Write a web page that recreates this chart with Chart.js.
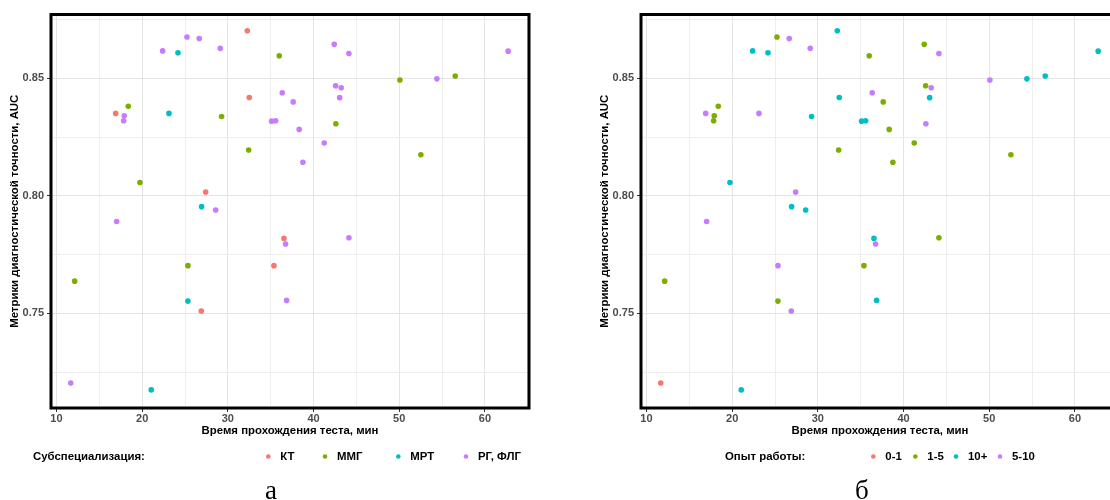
<!DOCTYPE html>
<html>
<head>
<meta charset="utf-8">
<script src="https://cdn.jsdelivr.net/npm/chart.js@4/dist/chart.umd.min.js"></script>
<style>
  html, body { margin: 0; padding: 0; background: #fff; overflow: hidden; width: 1110px; height: 500px; }
  #wrap { position: relative; width: 1110px; height: 500px; overflow: hidden; }
  canvas { position: absolute; top: 0; }
  #panelA { left: 0; }
  #panelB { left: 590px; }
</style>
</head>
<body>
<div id="wrap">
  <canvas id="panelA" width="555" height="500"></canvas>
  <canvas id="panelB" width="555" height="500"></canvas>
</div>
<script>
// Test duration (minutes) per participant
const timeMin = [
  16.91, 32.27, 32.50, 27.41, 36.55, 35.38, 26.90,
  18.38, 29.27, 32.43, 19.74, 36.00, 50.08, 56.54, 42.61, 52.53, 25.34, 12.12,
  24.18, 23.13, 26.94, 25.34, 21.06,
  17.91, 17.84, 22.39, 25.23, 26.66, 29.11, 28.58, 17.02, 42.42, 44.13, 62.72,
  54.40, 42.58, 43.23, 43.05, 36.35, 37.63, 35.11, 35.58, 38.33, 41.25, 38.76,
  36.74, 44.13, 11.66, 36.86
];
// Diagnostic accuracy (AUC) per participant
const auc = [
  0.8351, 0.8703, 0.8419, 0.8016, 0.7819, 0.7703, 0.7510,
  0.8381, 0.8338, 0.8195, 0.8057, 0.8596, 0.8493, 0.8510, 0.8307, 0.8175, 0.7703, 0.7637,
  0.8609, 0.8351, 0.7954, 0.7552, 0.7174,
  0.8341, 0.8320, 0.8617, 0.8676, 0.8670, 0.8628, 0.7940, 0.7891, 0.8645, 0.8606, 0.8616,
  0.8498, 0.8469, 0.8460, 0.8418, 0.8439, 0.8400, 0.8318, 0.8320, 0.8283, 0.8225, 0.8143,
  0.7795, 0.7822, 0.7203, 0.7555
];
// Subspecialty per participant
const subspec = [
  'КТ', 'КТ', 'КТ', 'КТ', 'КТ', 'КТ', 'КТ',
  'ММГ', 'ММГ', 'ММГ', 'ММГ', 'ММГ', 'ММГ', 'ММГ', 'ММГ', 'ММГ', 'ММГ', 'ММГ',
  'МРТ', 'МРТ', 'МРТ', 'МРТ', 'МРТ',
  'РГ, ФЛГ', 'РГ, ФЛГ', 'РГ, ФЛГ', 'РГ, ФЛГ', 'РГ, ФЛГ', 'РГ, ФЛГ', 'РГ, ФЛГ', 'РГ, ФЛГ',
  'РГ, ФЛГ', 'РГ, ФЛГ', 'РГ, ФЛГ', 'РГ, ФЛГ', 'РГ, ФЛГ', 'РГ, ФЛГ', 'РГ, ФЛГ', 'РГ, ФЛГ',
  'РГ, ФЛГ', 'РГ, ФЛГ', 'РГ, ФЛГ', 'РГ, ФЛГ', 'РГ, ФЛГ', 'РГ, ФЛГ', 'РГ, ФЛГ', 'РГ, ФЛГ',
  'РГ, ФЛГ', 'РГ, ФЛГ'
];
// Work experience (years) per participant
const experience = [
  '5-10', '10+', '10+', '5-10', '10+', '1-5', '5-10',
  '1-5', '10+', '1-5', '10+', '1-5', '5-10', '10+', '5-10', '1-5', '5-10', '1-5',
  '10+', '5-10', '10+', '1-5', '10+',
  '1-5', '1-5', '10+', '1-5', '5-10', '5-10', '10+', '5-10', '1-5', '5-10', '10+',
  '10+', '1-5', '5-10', '10+', '5-10', '1-5', '10+', '10+', '1-5', '1-5', '1-5',
  '5-10', '1-5', '0-1', '10+'
];

const subspecCategories = ['КТ', 'ММГ', 'МРТ', 'РГ, ФЛГ'];
const experienceCategories = ['0-1', '1-5', '10+', '5-10'];
const groupColors = ['#F8766D', '#7CAE00', '#00BFC4', '#C77CFF'];

const xTickValues = [10, 15, 20, 25, 30, 35, 40, 45, 50, 55, 60, 65];
const yTickValues = [0.725, 0.75, 0.775, 0.8, 0.825, 0.85, 0.875];

const xLabel = 'Время прохождения теста, мин';
const yLabel = 'Метрики диагностической точности, AUC';

const SANS = '"Liberation Sans", Arial, Helvetica, sans-serif';
const SERIF = '"Liberation Serif", "Times New Roman", serif';

const isMajorX = v => Math.round(v) % 10 === 0;
const isMajorY = v => Math.round(v * 1000) % 50 === 0;

function buildDatasets(groupOf, categories) {
  return categories.map((cat, k) => ({
    label: cat,
    data: timeMin
      .map((t, i) => ({ x: t, y: auc[i], g: groupOf[i] }))
      .filter(p => p.g === cat)
      .map(p => ({ x: p.x, y: p.y })),
    backgroundColor: groupColors[k],
    borderWidth: 0,
    pointRadius: 2.8,
    pointHoverRadius: 2.8
  }));
}

// Panel frame, bottom legend and panel letter
const panelDecor = {
  id: 'panelDecor',
  afterDraw(chart, args, opts) {
    const { ctx, chartArea: a } = chart;
    ctx.save();
    ctx.lineWidth = 3;
    ctx.strokeStyle = '#000';
    ctx.strokeRect(a.left, a.top, a.right - a.left, a.bottom - a.top);

    ctx.font = 'bold 11.4px ' + SANS;
    ctx.fillStyle = '#000';
    ctx.textBaseline = 'middle';
    ctx.textAlign = 'left';
    ctx.fillText(opts.title, opts.titleX, opts.legendY);
    chart.data.datasets.forEach((ds, k) => {
      const kx = opts.keyX[k];
      ctx.beginPath();
      ctx.fillStyle = ds.backgroundColor;
      ctx.arc(kx, opts.legendY, 2.3, 0, Math.PI * 2);
      ctx.fill();
      ctx.fillStyle = '#000';
      ctx.fillText(ds.label, kx + 12, opts.legendY);
    });

    ctx.font = '27px ' + SERIF;
    ctx.textBaseline = 'alphabetic';
    ctx.fillText(opts.letter, opts.letterX, opts.letterY);
    ctx.restore();
  }
};

function makeChart(canvasId, datasets, decor) {
  const tickFont = { family: SANS, size: 11, weight: 'bold' };
  const titleFont = { family: SANS, size: 11.4, weight: 'bold' };
  return new Chart(document.getElementById(canvasId), {
    type: 'scatter',
    data: { datasets },
    plugins: [panelDecor],
    options: {
      responsive: false,
      animation: false,
      devicePixelRatio: 1,
      events: [],
      layout: { padding: { left: 0, top: 14.5, right: 26, bottom: 0 } },
      plugins: {
        legend: { display: false },
        tooltip: { enabled: false },
        panelDecor: decor
      },
      scales: {
        x: {
          type: 'linear',
          min: 9.36,
          max: 65.15,
          afterBuildTicks: s => { s.ticks = xTickValues.map(v => ({ value: v })); },
          afterFit: s => { s.height = 92; },
          border: { display: false },
          grid: {
            color: c => (c.tick && isMajorX(c.tick.value)) ? '#E4E4E4' : '#EEEEEE',
            lineWidth: 1,
            drawTicks: true,
            tickLength: 4,
            tickColor: c => (c.tick && isMajorX(c.tick.value)) ? '#333333' : 'rgba(0,0,0,0)',
            tickWidth: 1
          },
          ticks: {
            autoSkip: false,
            maxRotation: 0,
            padding: 0,
            color: '#4D4D4D',
            font: tickFont,
            callback: v => isMajorX(v) ? String(v) : ''
          },
          title: {
            display: true,
            text: xLabel,
            color: '#000',
            font: titleFont,
            padding: { top: 0, bottom: 62 }
          }
        },
        y: {
          type: 'linear',
          min: 0.7097,
          max: 0.8772,
          afterBuildTicks: s => { s.ticks = yTickValues.map(v => ({ value: v })); },
          afterFit: s => { s.width = 51; },
          border: { display: false },
          grid: {
            color: c => (c.tick && isMajorY(c.tick.value)) ? '#E4E4E4' : '#EEEEEE',
            lineWidth: 1,
            drawTicks: true,
            tickLength: 4,
            tickColor: c => (c.tick && isMajorY(c.tick.value)) ? '#333333' : 'rgba(0,0,0,0)',
            tickWidth: 1
          },
          ticks: {
            autoSkip: false,
            padding: 3,
            color: '#4D4D4D',
            font: tickFont,
            callback: v => isMajorY(v) ? v.toFixed(2) : ''
          },
          title: {
            display: true,
            text: yLabel,
            color: '#000',
            font: titleFont,
            padding: { top: 8.5, bottom: 0 }
          }
        }
      }
    }
  });
}

makeChart('panelA', buildDatasets(subspec, subspecCategories), {
  title: 'Субспециализация:',
  titleX: 33,
  legendY: 456.5,
  keyX: [268.3, 325, 398.3, 466],
  letter: 'а',
  letterX: 265,
  letterY: 499
});

makeChart('panelB', buildDatasets(experience, experienceCategories), {
  title: 'Опыт работы:',
  titleX: 135,
  legendY: 456.5,
  keyX: [283.3, 325.3, 366, 410],
  letter: 'б',
  letterX: 265,
  letterY: 499
});
</script>
</body>
</html>
